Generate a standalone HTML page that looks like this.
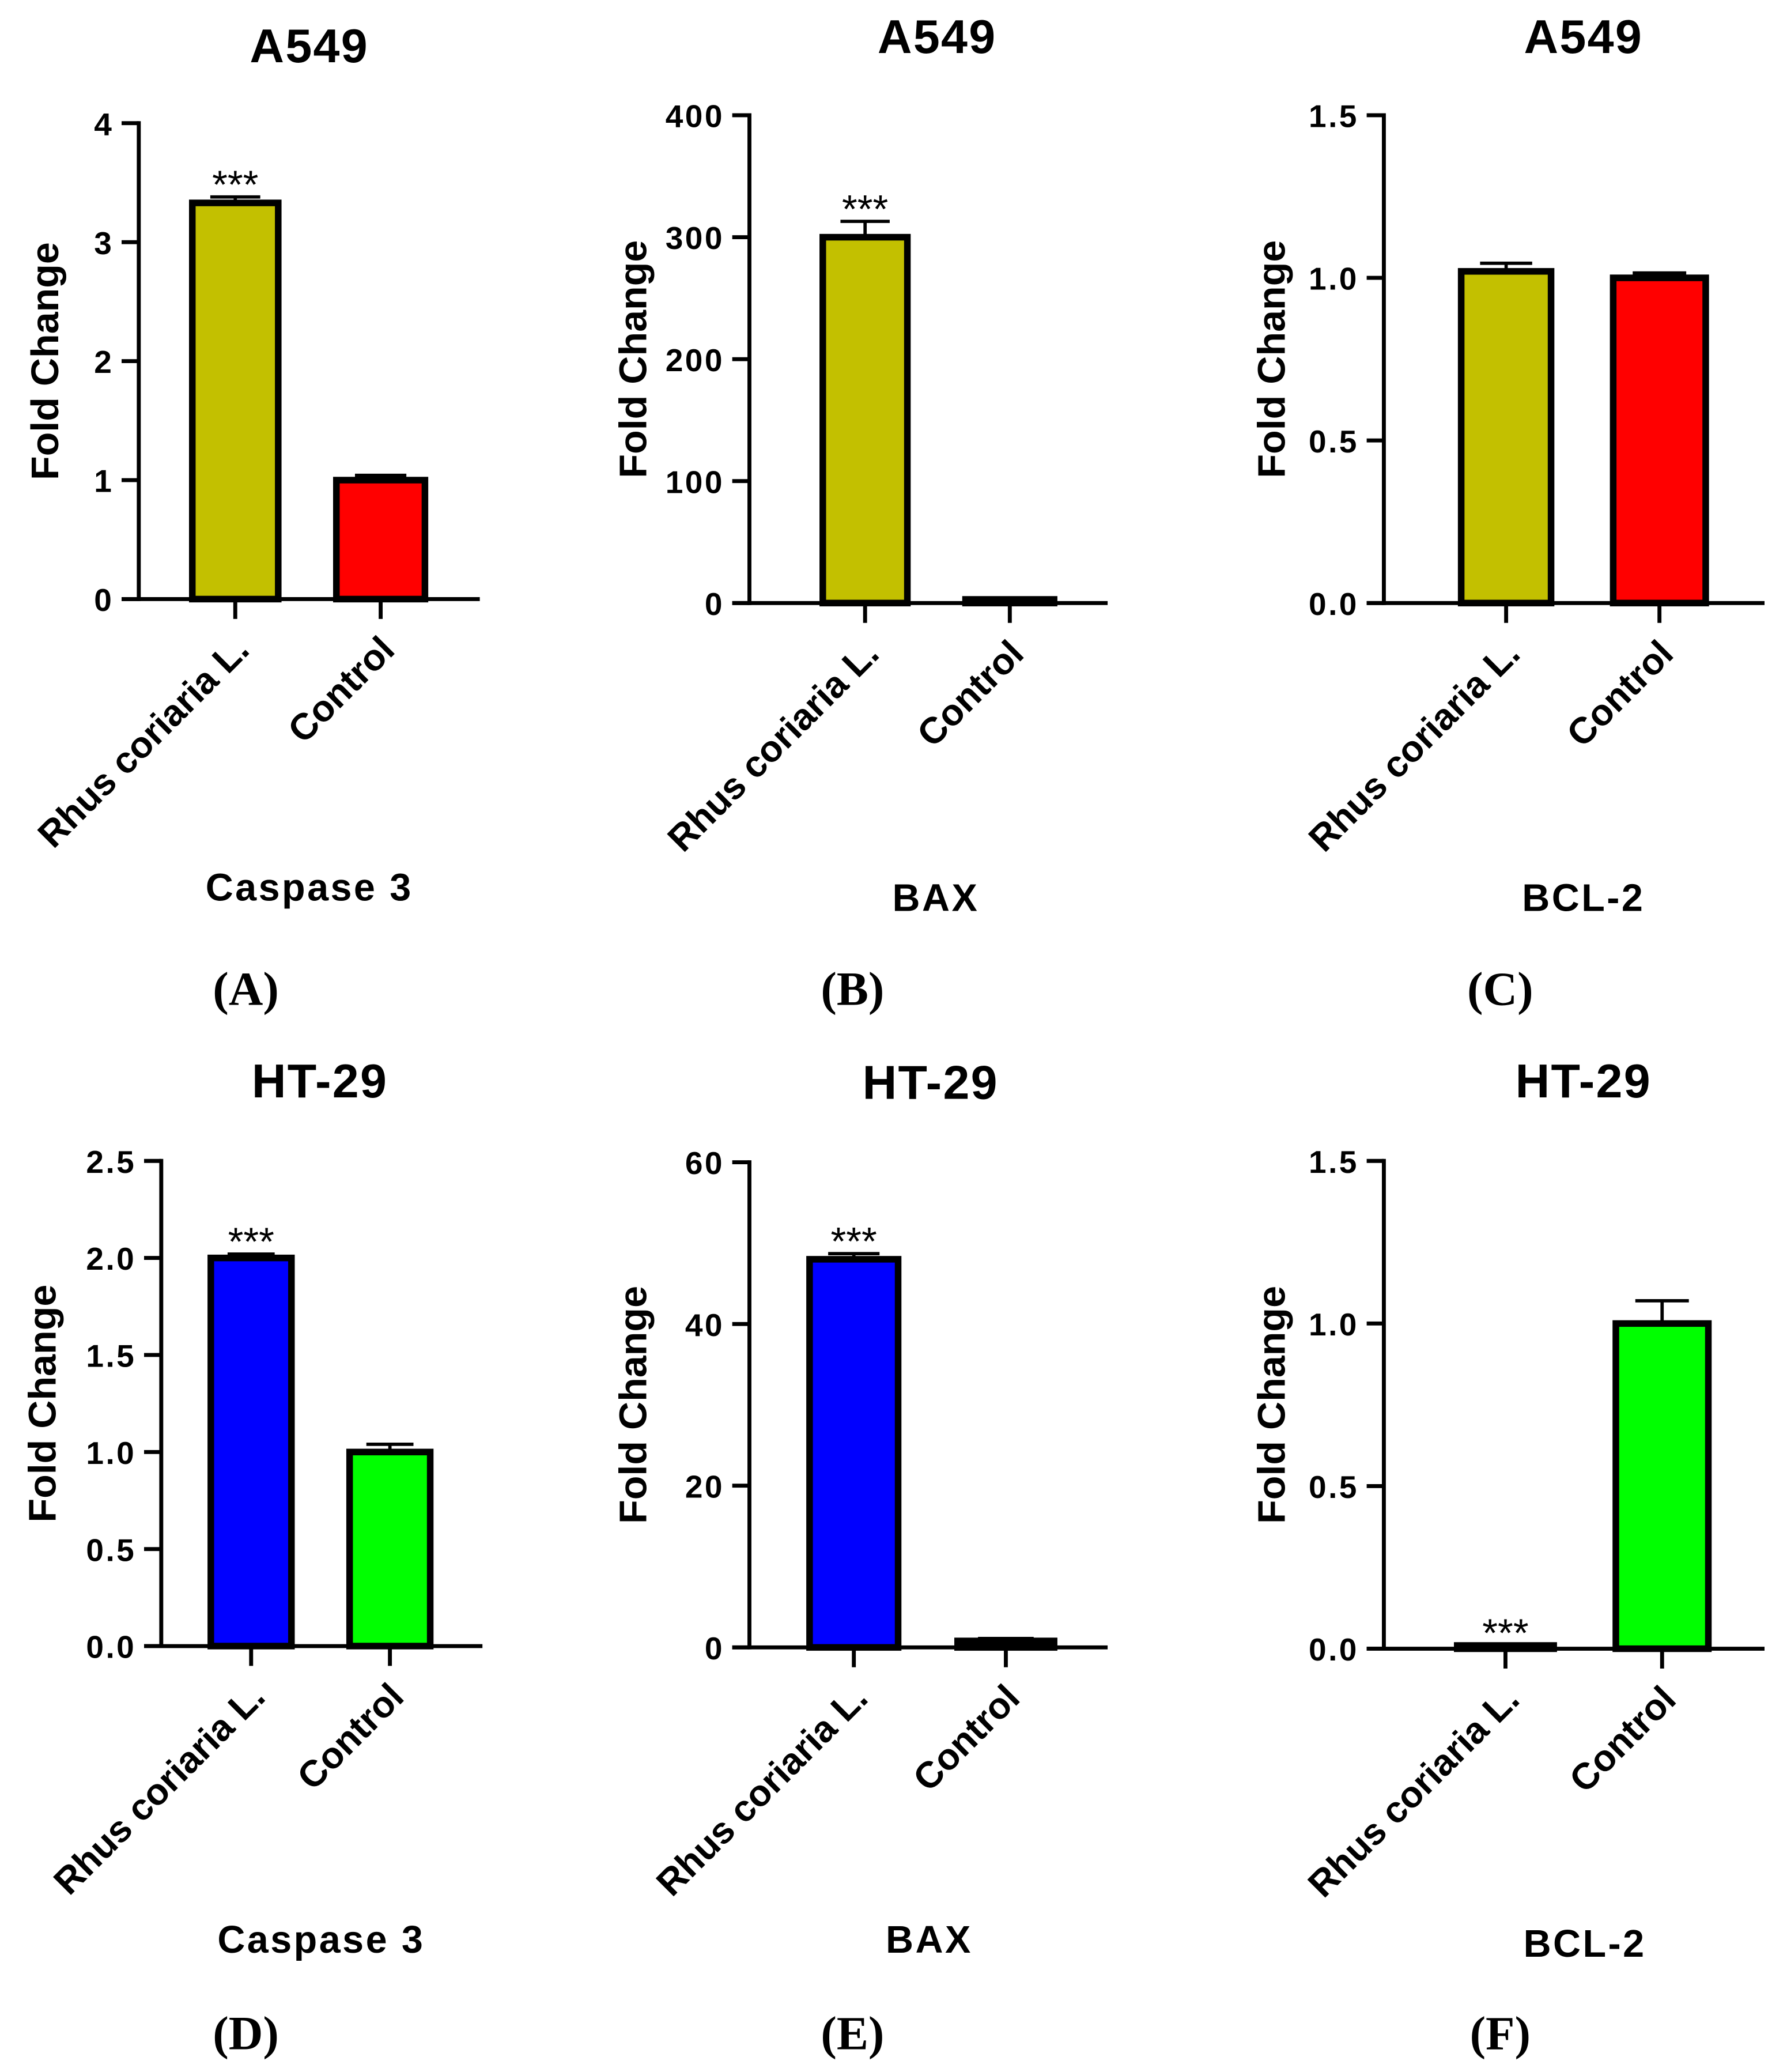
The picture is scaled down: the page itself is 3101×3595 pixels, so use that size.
<!DOCTYPE html>
<html><head><meta charset="utf-8"><style>
html,body{margin:0;padding:0;background:#fff}
svg{display:block}
text{font-family:"Liberation Sans",Arial,sans-serif}
</style></head><body>
<svg id="fig" width="3101" height="3595" viewBox="0 0 1352 1567" xmlns="http://www.w3.org/2000/svg"></svg>
<script>
const categories = ["Rhus coriaria L.", "Control"];
const panelTitles = ["A549","A549","A549","HT-29","HT-29","HT-29"];
const geneLabels = ["Caspase 3","BAX","BCL-2","Caspase 3","BAX","BCL-2"];
const panelLetters = ["(A)","(B)","(C)","(D)","(E)","(F)"];
const valuesA = [3.33, 1.0];   const errorsA = [0.05, 0.04];
const valuesB = [300, 3];      const errorsB = [13, 1];
const valuesC = [1.02, 1.0];   const errorsC = [0.025, 0.015];
const valuesD = [2.0, 1.0];    const errorsD = [0.02, 0.04];
const valuesE = [48, 0.8];     const errorsE = [0.7, 0.3];
const valuesF = [0.01, 1.0];   const errorsF = [0.0, 0.07];
const ticksA = [0,1,2,3,4];
const ticksB = [0,100,200,300,400];
const ticksC = [0,0.5,1.0,1.5];
const ticksD = [0,0.5,1.0,1.5,2.0,2.5];
const ticksE = [0,20,40,60];
const ticksF = [0,0.5,1.0,1.5];
const tickLabelsA = ["0","1","2","3","4"];
const tickLabelsB = ["0","100","200","300","400"];
const tickLabelsC = ["0.0","0.5","1.0","1.5"];
const tickLabelsD = ["0.0","0.5","1.0","1.5","2.0","2.5"];
const tickLabelsE = ["0","20","40","60"];
const tickLabelsF = ["0.0","0.5","1.0","1.5"];
const stars = [[true,false],[true,false],[false,false],[true,false],[true,false],[true,false]];

const NS="http://www.w3.org/2000/svg";
const svg=document.getElementById('fig');
function mk(tag,attrs,parent){const e=document.createElementNS(NS,tag);for(const k in attrs)e.setAttribute(k,attrs[k]);(parent||svg).appendChild(e);return e;}

const layouts=[
 {ax:105,top:93,bot:453,xend:363,bars:[[143,213],[252,324]],colors:["#c3c000","#ff0000"],tx:234,ty:34,gx:234,gy:670,lx:186,ly:748,ytx:35},
 {ax:567,top:87,bot:456,xend:838,bars:[[620,689],[728,800]],colors:["#c3c000","#ff0000"],tx:709,ty:27,gx:708,gy:678,lx:645,ly:748,ytx:480},
 {ax:1047,top:87,bot:456,xend:1335,bars:[[1103,1176],[1218,1293]],colors:["#c3c000","#ff0000"],tx:1198,ty:27,gx:1198,gy:678,lx:1135,ly:748,ytx:963},
 {ax:122,top:878,bot:1245,xend:365,bars:[[157,223],[262,328]],colors:["#0000ff","#00ff00"],tx:242,ty:817,gx:243,gy:1466,lx:186,ly:1538,ytx:33},
 {ax:567,top:879,bot:1246,xend:838,bars:[[610,682],[722,800]],colors:["#0000ff","#00ff00"],tx:704,ty:818,gx:703,gy:1466,lx:645,ly:1538,ytx:480},
 {ax:1047,top:878,bot:1247,xend:1335,bars:[[1100,1178],[1220,1295]],colors:["#0000ff","#00ff00"],tx:1198,ty:817,gx:1199,gy:1469,lx:1135,ly:1538,ytx:963}
];
const allValues=[valuesA,valuesB,valuesC,valuesD,valuesE,valuesF];
const allErrors=[errorsA,errorsB,errorsC,errorsD,errorsE,errorsF];
const allTicks=[ticksA,ticksB,ticksC,ticksD,ticksE,ticksF];
const allTickLabels=[tickLabelsA,tickLabelsB,tickLabelsC,tickLabelsD,tickLabelsE,tickLabelsF];

layouts.forEach((L,p)=>{
  const g=mk('g',{});
  
  
  const ticks=allTicks[p];
  const ymax=ticks[ticks.length-1];
  const y=v=>L.bot-(v/ymax)*(L.bot-L.top);
  const t=mk('text',{x:L.tx,y:L.ty+13,'text-anchor':'middle','font-size':36,'font-weight':'bold','letter-spacing':'1'},g);
  t.textContent=panelTitles[p];
  
  
  allValues[p].forEach((v,i)=>{
    const [x0,x1]=L.bars[i];
    const e=allErrors[p][i];
    const cx=(x0+x1)/2;
    const bw=x1-x0;
    if(e>0){
      const eb=mk('path',{d:`M${cx} ${y(v)} V${y(v+e)} M${cx-bw*0.27} ${y(v+e)} H${cx+bw*0.27}`,stroke:'#000','stroke-width':2.5,fill:'none'},g);
      
      
    }
    const hgt=Math.max(L.bot-y(v),0);
    const r=mk('rect',{x:x0+2.5,y:y(v),width:bw-5,height:hgt,fill:L.colors[i],stroke:'#000','stroke-width':5},g);
    
    
    if(stars[p][i]){
      const s=mk('text',{x:cx,y:y(v+e)+1,'text-anchor':'middle','font-size':30},g);
      s.textContent='***';
      
      
    }
    const ct=mk('line',{x1:cx,y1:L.bot,x2:cx,y2:L.bot+15,stroke:'#000','stroke-width':3},g);
    
    
    const lbl=mk('text',{x:cx+12,y:L.bot+40,'text-anchor':'end','font-size':28,'font-weight':'bold',transform:`rotate(-45 ${cx+12} ${L.bot+40})`},g);
    lbl.textContent=categories[i];
    
    
  });
  const ya=mk('line',{x1:L.ax,y1:L.top-1.5,x2:L.ax,y2:L.bot+1.5,stroke:'#000','stroke-width':3},g);
  
  
  const xa=mk('line',{x1:L.ax-13,y1:L.bot,x2:L.xend,y2:L.bot,stroke:'#000','stroke-width':3},g);
  
  
  ticks.forEach((tv,k)=>{
    const tk=mk('line',{x1:L.ax-13,y1:y(tv),x2:L.ax,y2:y(tv),stroke:'#000','stroke-width':3},g);
    
    
    const tl=mk('text',{x:L.ax-19,y:y(tv)+9,'text-anchor':'end','font-size':24,'font-weight':'bold','letter-spacing':'1.5'},g);
    tl.textContent=allTickLabels[p][k];
    
    
  });
  const ymid=(L.top+L.bot)/2;
  const yt=mk('text',{x:L.ytx+9,y:ymid,'text-anchor':'middle','font-size':29,'font-weight':'bold',transform:`rotate(-90 ${L.ytx+9} ${ymid})`,'textLength':180,'lengthAdjust':'spacingAndGlyphs'},g);
  yt.textContent='Fold Change';
  
  
  const gl=mk('text',{x:L.gx,y:L.gy+11,'text-anchor':'middle','font-size':29,'font-weight':'bold','letter-spacing':'1.5'},g);
  gl.textContent=geneLabels[p];
  
  
  const pl=mk('text',{x:L.lx,y:L.ly+12,'text-anchor':'middle','font-size':36,'font-weight':'bold',style:'font-family:"Liberation Serif",serif'},g);
  pl.textContent=panelLetters[p];
  
  
});
</script>
</body></html>
